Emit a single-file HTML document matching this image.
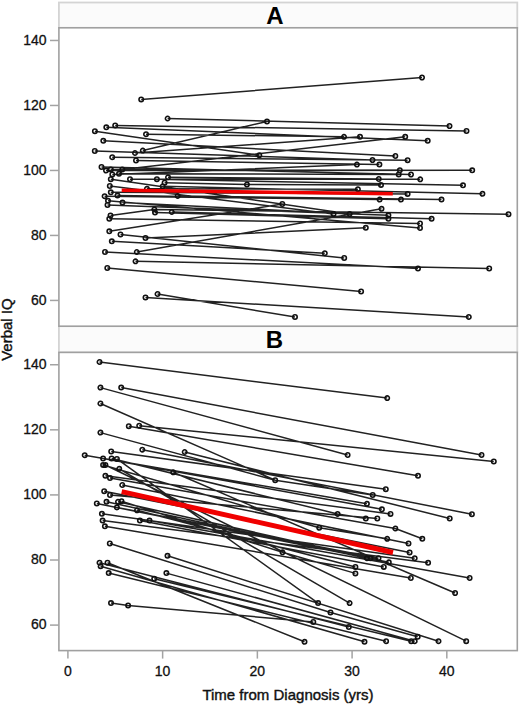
<!DOCTYPE html>
<html><head><meta charset="utf-8"><style>
html,body{margin:0;padding:0;background:#fff;width:520px;height:706px;overflow:hidden}
svg{display:block}
.tk{font-family:"Liberation Sans",sans-serif;font-size:14px;fill:#111;stroke:#111;stroke-width:0.3px}
.lab{font-family:"Liberation Sans",sans-serif;font-size:15px;fill:#111;stroke:#111;stroke-width:0.4px}
.ttl{font-family:"Liberation Sans",sans-serif;font-size:24px;font-weight:bold;fill:#000}
</style></head><body>
<svg width="520" height="706" viewBox="0 0 520 706">
<rect x="58.9" y="2.5" width="458.4" height="25.3" fill="#fbfbfb" stroke="#d4d4d4" stroke-width="1.8"/>
<rect x="58.9" y="326.2" width="458.4" height="26.19999999999999" fill="#fbfbfb" stroke="#d4d4d4" stroke-width="1.8"/>
<rect x="58.9" y="27.8" width="458.4" height="298.4" fill="#fff" stroke="#a0a0a0" stroke-width="1.6"/>
<rect x="58.9" y="352.4" width="458.4" height="298.20000000000005" fill="#fff" stroke="#a0a0a0" stroke-width="1.6"/>
<line x1="50" y1="40.47" x2="58.9" y2="40.47" stroke="#a3a3a3" stroke-width="1.5"/>
<text x="46.6" y="44.67" text-anchor="end" class="tk">140</text>
<line x1="50" y1="364.74" x2="58.9" y2="364.74" stroke="#a3a3a3" stroke-width="1.5"/>
<text x="46.6" y="368.94" text-anchor="end" class="tk">140</text>
<line x1="50" y1="105.46" x2="58.9" y2="105.46" stroke="#a3a3a3" stroke-width="1.5"/>
<text x="46.6" y="109.66" text-anchor="end" class="tk">120</text>
<line x1="50" y1="429.83" x2="58.9" y2="429.83" stroke="#a3a3a3" stroke-width="1.5"/>
<text x="46.6" y="434.03" text-anchor="end" class="tk">120</text>
<line x1="50" y1="170.45" x2="58.9" y2="170.45" stroke="#a3a3a3" stroke-width="1.5"/>
<text x="46.6" y="174.65" text-anchor="end" class="tk">100</text>
<line x1="50" y1="494.92" x2="58.9" y2="494.92" stroke="#a3a3a3" stroke-width="1.5"/>
<text x="46.6" y="499.12" text-anchor="end" class="tk">100</text>
<line x1="50" y1="235.44" x2="58.9" y2="235.44" stroke="#a3a3a3" stroke-width="1.5"/>
<text x="46.6" y="239.64" text-anchor="end" class="tk">80</text>
<line x1="50" y1="560.01" x2="58.9" y2="560.01" stroke="#a3a3a3" stroke-width="1.5"/>
<text x="46.6" y="564.21" text-anchor="end" class="tk">80</text>
<line x1="50" y1="300.43" x2="58.9" y2="300.43" stroke="#a3a3a3" stroke-width="1.5"/>
<text x="46.6" y="304.63" text-anchor="end" class="tk">60</text>
<line x1="50" y1="625.10" x2="58.9" y2="625.10" stroke="#a3a3a3" stroke-width="1.5"/>
<text x="46.6" y="629.30" text-anchor="end" class="tk">60</text>
<line x1="67.90" y1="650.6" x2="67.90" y2="658.6" stroke="#a3a3a3" stroke-width="1.5"/>
<text x="67.90" y="676.2" text-anchor="middle" class="tk">0</text>
<line x1="162.63" y1="650.6" x2="162.63" y2="658.6" stroke="#a3a3a3" stroke-width="1.5"/>
<text x="162.63" y="676.2" text-anchor="middle" class="tk">10</text>
<line x1="257.36" y1="650.6" x2="257.36" y2="658.6" stroke="#a3a3a3" stroke-width="1.5"/>
<text x="257.36" y="676.2" text-anchor="middle" class="tk">20</text>
<line x1="352.09" y1="650.6" x2="352.09" y2="658.6" stroke="#a3a3a3" stroke-width="1.5"/>
<text x="352.09" y="676.2" text-anchor="middle" class="tk">30</text>
<line x1="446.82" y1="650.6" x2="446.82" y2="658.6" stroke="#a3a3a3" stroke-width="1.5"/>
<text x="446.82" y="676.2" text-anchor="middle" class="tk">40</text>
<text x="274.8" y="23.6" text-anchor="middle" class="ttl">A</text>
<text x="274.5" y="348.4" text-anchor="middle" class="ttl">B</text>
<text transform="translate(11.5 329.6) rotate(-90)" text-anchor="middle" class="lab">Verbal IQ</text>
<text x="288" y="700.3" text-anchor="middle" class="lab">Time from Diagnosis (yrs)</text>
<path d="M141.2 99.4L422.0 77.5M167.6 118.5L449.5 126.0M94.9 131.2L259.3 155.3M122.3 169.6L405.2 136.8M142.8 150.6L267.0 121.5M109.3 231.3L282.3 204.0M120.5 234.5L344.2 258.0M145.5 238.0L365.8 227.8M111.8 241.3L324.8 253.2M105.0 252.0L418.0 268.5M136.8 252.0L381.5 208.8M135.5 261.3L489.2 268.5M107.3 268.0L361.1 291.5M145.5 297.5L468.8 316.9M157.5 294.0L295.0 317.0M115.2 125.4L466.5 131.0M106.3 127.3L427.7 140.8M146.0 134.2L344.0 136.8M103.3 140.8L395.3 156.0M94.8 151.0L372.5 160.0M135.0 153.0L360.0 136.8M112.2 157.2L407.6 160.2M136.0 160.5L379.4 164.6M101.5 167.0L411.0 174.5M112.3 174.4L356.9 164.6M110.8 169.6L399.8 170.2M106.0 170.6L472.2 170.3M119.0 173.8L398.7 174.4M168.0 177.3L378.7 179.0M110.8 179.2L349.6 213.9M130.0 179.2L420.2 179.3M156.9 179.2L463.0 185.3M164.6 182.7L246.9 184.6M246.9 184.6L381.0 184.9M109.8 186.0L333.5 213.9M162.7 186.3L482.4 193.8M146.9 188.8L357.9 189.2M110.8 192.3L407.6 193.9M117.5 195.6L400.9 199.6M177.7 196.0L441.5 199.6M104.6 196.2L379.6 199.6M108.0 200.8L420.0 228.0M122.5 202.5L349.6 213.9M107.5 205.0L388.4 215.3M154.3 209.5L508.5 214.2M171.8 212.0L431.6 218.8M155.0 212.5L388.4 218.8M110.5 215.5L154.3 209.5M109.3 218.8L420.0 223.5" fill="none" stroke="#222" stroke-width="1.5"/>
<path d="M92.60 151.0a2.2 2.2 0 1 0 4.4 0a2.2 2.2 0 1 0 -4.4 0M92.70 131.2a2.2 2.2 0 1 0 4.4 0a2.2 2.2 0 1 0 -4.4 0M99.30 167.0a2.2 2.2 0 1 0 4.4 0a2.2 2.2 0 1 0 -4.4 0M101.10 140.8a2.2 2.2 0 1 0 4.4 0a2.2 2.2 0 1 0 -4.4 0M102.40 196.2a2.2 2.2 0 1 0 4.4 0a2.2 2.2 0 1 0 -4.4 0M102.80 252.0a2.2 2.2 0 1 0 4.4 0a2.2 2.2 0 1 0 -4.4 0M103.80 170.6a2.2 2.2 0 1 0 4.4 0a2.2 2.2 0 1 0 -4.4 0M104.10 127.3a2.2 2.2 0 1 0 4.4 0a2.2 2.2 0 1 0 -4.4 0M105.10 268.0a2.2 2.2 0 1 0 4.4 0a2.2 2.2 0 1 0 -4.4 0M105.30 205.0a2.2 2.2 0 1 0 4.4 0a2.2 2.2 0 1 0 -4.4 0M105.80 200.8a2.2 2.2 0 1 0 4.4 0a2.2 2.2 0 1 0 -4.4 0M107.10 218.8a2.2 2.2 0 1 0 4.4 0a2.2 2.2 0 1 0 -4.4 0M107.10 231.3a2.2 2.2 0 1 0 4.4 0a2.2 2.2 0 1 0 -4.4 0M107.60 186.0a2.2 2.2 0 1 0 4.4 0a2.2 2.2 0 1 0 -4.4 0M108.30 215.5a2.2 2.2 0 1 0 4.4 0a2.2 2.2 0 1 0 -4.4 0M108.60 169.6a2.2 2.2 0 1 0 4.4 0a2.2 2.2 0 1 0 -4.4 0M108.60 179.2a2.2 2.2 0 1 0 4.4 0a2.2 2.2 0 1 0 -4.4 0M108.60 192.3a2.2 2.2 0 1 0 4.4 0a2.2 2.2 0 1 0 -4.4 0M109.60 241.3a2.2 2.2 0 1 0 4.4 0a2.2 2.2 0 1 0 -4.4 0M110.00 157.2a2.2 2.2 0 1 0 4.4 0a2.2 2.2 0 1 0 -4.4 0M110.10 174.4a2.2 2.2 0 1 0 4.4 0a2.2 2.2 0 1 0 -4.4 0M113.00 125.4a2.2 2.2 0 1 0 4.4 0a2.2 2.2 0 1 0 -4.4 0M115.30 195.6a2.2 2.2 0 1 0 4.4 0a2.2 2.2 0 1 0 -4.4 0M116.80 173.8a2.2 2.2 0 1 0 4.4 0a2.2 2.2 0 1 0 -4.4 0M118.30 234.5a2.2 2.2 0 1 0 4.4 0a2.2 2.2 0 1 0 -4.4 0M120.10 169.6a2.2 2.2 0 1 0 4.4 0a2.2 2.2 0 1 0 -4.4 0M120.30 202.5a2.2 2.2 0 1 0 4.4 0a2.2 2.2 0 1 0 -4.4 0M127.80 179.2a2.2 2.2 0 1 0 4.4 0a2.2 2.2 0 1 0 -4.4 0M132.80 153.0a2.2 2.2 0 1 0 4.4 0a2.2 2.2 0 1 0 -4.4 0M133.30 261.3a2.2 2.2 0 1 0 4.4 0a2.2 2.2 0 1 0 -4.4 0M133.80 160.5a2.2 2.2 0 1 0 4.4 0a2.2 2.2 0 1 0 -4.4 0M134.60 252.0a2.2 2.2 0 1 0 4.4 0a2.2 2.2 0 1 0 -4.4 0M139.00 99.4a2.2 2.2 0 1 0 4.4 0a2.2 2.2 0 1 0 -4.4 0M140.60 150.6a2.2 2.2 0 1 0 4.4 0a2.2 2.2 0 1 0 -4.4 0M143.30 238.0a2.2 2.2 0 1 0 4.4 0a2.2 2.2 0 1 0 -4.4 0M143.30 297.5a2.2 2.2 0 1 0 4.4 0a2.2 2.2 0 1 0 -4.4 0M143.80 134.2a2.2 2.2 0 1 0 4.4 0a2.2 2.2 0 1 0 -4.4 0M144.70 188.8a2.2 2.2 0 1 0 4.4 0a2.2 2.2 0 1 0 -4.4 0M152.10 209.5a2.2 2.2 0 1 0 4.4 0a2.2 2.2 0 1 0 -4.4 0M152.80 212.5a2.2 2.2 0 1 0 4.4 0a2.2 2.2 0 1 0 -4.4 0M154.70 179.2a2.2 2.2 0 1 0 4.4 0a2.2 2.2 0 1 0 -4.4 0M155.30 294.0a2.2 2.2 0 1 0 4.4 0a2.2 2.2 0 1 0 -4.4 0M160.50 186.3a2.2 2.2 0 1 0 4.4 0a2.2 2.2 0 1 0 -4.4 0M162.40 182.7a2.2 2.2 0 1 0 4.4 0a2.2 2.2 0 1 0 -4.4 0M165.40 118.5a2.2 2.2 0 1 0 4.4 0a2.2 2.2 0 1 0 -4.4 0M165.80 177.3a2.2 2.2 0 1 0 4.4 0a2.2 2.2 0 1 0 -4.4 0M169.60 212.0a2.2 2.2 0 1 0 4.4 0a2.2 2.2 0 1 0 -4.4 0M175.50 196.0a2.2 2.2 0 1 0 4.4 0a2.2 2.2 0 1 0 -4.4 0M244.70 184.6a2.2 2.2 0 1 0 4.4 0a2.2 2.2 0 1 0 -4.4 0M257.10 155.3a2.2 2.2 0 1 0 4.4 0a2.2 2.2 0 1 0 -4.4 0M264.80 121.5a2.2 2.2 0 1 0 4.4 0a2.2 2.2 0 1 0 -4.4 0M280.10 204.0a2.2 2.2 0 1 0 4.4 0a2.2 2.2 0 1 0 -4.4 0M292.80 317.0a2.2 2.2 0 1 0 4.4 0a2.2 2.2 0 1 0 -4.4 0M322.60 253.2a2.2 2.2 0 1 0 4.4 0a2.2 2.2 0 1 0 -4.4 0M331.30 213.9a2.2 2.2 0 1 0 4.4 0a2.2 2.2 0 1 0 -4.4 0M341.80 136.8a2.2 2.2 0 1 0 4.4 0a2.2 2.2 0 1 0 -4.4 0M342.00 258.0a2.2 2.2 0 1 0 4.4 0a2.2 2.2 0 1 0 -4.4 0M347.40 213.9a2.2 2.2 0 1 0 4.4 0a2.2 2.2 0 1 0 -4.4 0M354.70 164.6a2.2 2.2 0 1 0 4.4 0a2.2 2.2 0 1 0 -4.4 0M355.70 189.2a2.2 2.2 0 1 0 4.4 0a2.2 2.2 0 1 0 -4.4 0M357.80 136.8a2.2 2.2 0 1 0 4.4 0a2.2 2.2 0 1 0 -4.4 0M358.90 291.5a2.2 2.2 0 1 0 4.4 0a2.2 2.2 0 1 0 -4.4 0M363.60 227.8a2.2 2.2 0 1 0 4.4 0a2.2 2.2 0 1 0 -4.4 0M370.30 160.0a2.2 2.2 0 1 0 4.4 0a2.2 2.2 0 1 0 -4.4 0M376.50 179.0a2.2 2.2 0 1 0 4.4 0a2.2 2.2 0 1 0 -4.4 0M377.20 164.6a2.2 2.2 0 1 0 4.4 0a2.2 2.2 0 1 0 -4.4 0M377.40 199.6a2.2 2.2 0 1 0 4.4 0a2.2 2.2 0 1 0 -4.4 0M378.80 184.9a2.2 2.2 0 1 0 4.4 0a2.2 2.2 0 1 0 -4.4 0M379.30 208.8a2.2 2.2 0 1 0 4.4 0a2.2 2.2 0 1 0 -4.4 0M386.20 215.3a2.2 2.2 0 1 0 4.4 0a2.2 2.2 0 1 0 -4.4 0M386.20 218.8a2.2 2.2 0 1 0 4.4 0a2.2 2.2 0 1 0 -4.4 0M393.10 156.0a2.2 2.2 0 1 0 4.4 0a2.2 2.2 0 1 0 -4.4 0M396.50 174.4a2.2 2.2 0 1 0 4.4 0a2.2 2.2 0 1 0 -4.4 0M397.60 170.2a2.2 2.2 0 1 0 4.4 0a2.2 2.2 0 1 0 -4.4 0M398.70 199.6a2.2 2.2 0 1 0 4.4 0a2.2 2.2 0 1 0 -4.4 0M403.00 136.8a2.2 2.2 0 1 0 4.4 0a2.2 2.2 0 1 0 -4.4 0M405.40 160.2a2.2 2.2 0 1 0 4.4 0a2.2 2.2 0 1 0 -4.4 0M405.40 193.9a2.2 2.2 0 1 0 4.4 0a2.2 2.2 0 1 0 -4.4 0M408.80 174.5a2.2 2.2 0 1 0 4.4 0a2.2 2.2 0 1 0 -4.4 0M415.80 268.5a2.2 2.2 0 1 0 4.4 0a2.2 2.2 0 1 0 -4.4 0M417.80 223.5a2.2 2.2 0 1 0 4.4 0a2.2 2.2 0 1 0 -4.4 0M417.80 228.0a2.2 2.2 0 1 0 4.4 0a2.2 2.2 0 1 0 -4.4 0M418.00 179.3a2.2 2.2 0 1 0 4.4 0a2.2 2.2 0 1 0 -4.4 0M419.80 77.5a2.2 2.2 0 1 0 4.4 0a2.2 2.2 0 1 0 -4.4 0M425.50 140.8a2.2 2.2 0 1 0 4.4 0a2.2 2.2 0 1 0 -4.4 0M429.40 218.8a2.2 2.2 0 1 0 4.4 0a2.2 2.2 0 1 0 -4.4 0M439.30 199.6a2.2 2.2 0 1 0 4.4 0a2.2 2.2 0 1 0 -4.4 0M447.30 126.0a2.2 2.2 0 1 0 4.4 0a2.2 2.2 0 1 0 -4.4 0M460.80 185.3a2.2 2.2 0 1 0 4.4 0a2.2 2.2 0 1 0 -4.4 0M464.30 131.0a2.2 2.2 0 1 0 4.4 0a2.2 2.2 0 1 0 -4.4 0M466.60 316.9a2.2 2.2 0 1 0 4.4 0a2.2 2.2 0 1 0 -4.4 0M470.00 170.3a2.2 2.2 0 1 0 4.4 0a2.2 2.2 0 1 0 -4.4 0M480.20 193.8a2.2 2.2 0 1 0 4.4 0a2.2 2.2 0 1 0 -4.4 0M487.00 268.5a2.2 2.2 0 1 0 4.4 0a2.2 2.2 0 1 0 -4.4 0M506.30 214.2a2.2 2.2 0 1 0 4.4 0a2.2 2.2 0 1 0 -4.4 0" fill="none" stroke="#111" stroke-width="1.6"/>
<path d="M99.5 362.0L387.2 398.1M121.2 387.6L481.5 455.0M100.4 387.6L347.6 455.0M139.2 425.7L493.8 461.5M128.8 426.2L418.0 475.8M100.4 403.5L275.2 480.2M275.2 480.2L372.7 495.0M100.4 432.6L275.2 480.2M395.3 528.5L422.3 538.8M142.3 449.7L471.9 514.2M184.7 452.0L449.7 518.5M111.2 451.5L385.8 489.2M84.7 455.2L366.9 503.8M116.9 458.9L318.1 603.1M111.6 458.5L337.6 513.9M337.6 513.9L365.8 518.5M103.1 458.5L381.9 509.3M105.4 465.0L466.2 641.2M103.1 465.0L319.2 527.8M319.2 527.8L387.2 538.8M119.2 468.8L349.6 603.1M173.2 472.3L455.1 593.0M105.4 475.8L390.5 513.9M110.0 478.0L395.3 528.5M122.2 485.0L408.5 543.4M104.2 491.2L409.6 552.4M110.0 495.0L377.3 518.5M121.5 501.2L282.5 552.3M282.5 552.3L355.4 573.4M106.5 501.8L366.9 558.2M118.0 501.8L370.4 558.2M96.8 503.5L388.8 562.3M116.9 507.4L378.5 558.2M137.0 510.3L355.4 566.9M101.9 513.8L414.7 558.2M102.6 520.6L428.1 562.8M139.9 520.6L383.8 566.9M149.5 520.6L469.6 578.0M104.9 526.3L410.8 578.0M109.8 543.5L330.5 612.5M330.5 612.5L417.7 636.8M99.5 562.7L348.8 627.0M107.5 562.7L304.5 641.8M100.6 566.2L364.5 641.8M108.7 573.1L386.1 641.2M154.2 578.8L411.2 641.2M166.4 573.1L414.7 641.2M167.5 555.8L438.5 641.2M111.0 603.1L128.1 605.4M128.1 605.4L313.3 622.0" fill="none" stroke="#222" stroke-width="1.5"/>
<path d="M82.50 455.2a2.2 2.2 0 1 0 4.4 0a2.2 2.2 0 1 0 -4.4 0M94.60 503.5a2.2 2.2 0 1 0 4.4 0a2.2 2.2 0 1 0 -4.4 0M97.30 362.0a2.2 2.2 0 1 0 4.4 0a2.2 2.2 0 1 0 -4.4 0M97.30 562.7a2.2 2.2 0 1 0 4.4 0a2.2 2.2 0 1 0 -4.4 0M98.20 387.6a2.2 2.2 0 1 0 4.4 0a2.2 2.2 0 1 0 -4.4 0M98.20 403.5a2.2 2.2 0 1 0 4.4 0a2.2 2.2 0 1 0 -4.4 0M98.20 432.6a2.2 2.2 0 1 0 4.4 0a2.2 2.2 0 1 0 -4.4 0M98.40 566.2a2.2 2.2 0 1 0 4.4 0a2.2 2.2 0 1 0 -4.4 0M99.70 513.8a2.2 2.2 0 1 0 4.4 0a2.2 2.2 0 1 0 -4.4 0M100.40 520.6a2.2 2.2 0 1 0 4.4 0a2.2 2.2 0 1 0 -4.4 0M100.90 458.5a2.2 2.2 0 1 0 4.4 0a2.2 2.2 0 1 0 -4.4 0M100.90 465.0a2.2 2.2 0 1 0 4.4 0a2.2 2.2 0 1 0 -4.4 0M102.00 491.2a2.2 2.2 0 1 0 4.4 0a2.2 2.2 0 1 0 -4.4 0M102.70 526.3a2.2 2.2 0 1 0 4.4 0a2.2 2.2 0 1 0 -4.4 0M103.20 465.0a2.2 2.2 0 1 0 4.4 0a2.2 2.2 0 1 0 -4.4 0M103.20 475.8a2.2 2.2 0 1 0 4.4 0a2.2 2.2 0 1 0 -4.4 0M104.30 501.8a2.2 2.2 0 1 0 4.4 0a2.2 2.2 0 1 0 -4.4 0M105.30 562.7a2.2 2.2 0 1 0 4.4 0a2.2 2.2 0 1 0 -4.4 0M106.50 573.1a2.2 2.2 0 1 0 4.4 0a2.2 2.2 0 1 0 -4.4 0M107.60 543.5a2.2 2.2 0 1 0 4.4 0a2.2 2.2 0 1 0 -4.4 0M107.80 478.0a2.2 2.2 0 1 0 4.4 0a2.2 2.2 0 1 0 -4.4 0M107.80 495.0a2.2 2.2 0 1 0 4.4 0a2.2 2.2 0 1 0 -4.4 0M108.80 603.1a2.2 2.2 0 1 0 4.4 0a2.2 2.2 0 1 0 -4.4 0M109.00 451.5a2.2 2.2 0 1 0 4.4 0a2.2 2.2 0 1 0 -4.4 0M109.40 458.5a2.2 2.2 0 1 0 4.4 0a2.2 2.2 0 1 0 -4.4 0M114.70 458.9a2.2 2.2 0 1 0 4.4 0a2.2 2.2 0 1 0 -4.4 0M114.70 507.4a2.2 2.2 0 1 0 4.4 0a2.2 2.2 0 1 0 -4.4 0M115.80 501.8a2.2 2.2 0 1 0 4.4 0a2.2 2.2 0 1 0 -4.4 0M117.00 468.8a2.2 2.2 0 1 0 4.4 0a2.2 2.2 0 1 0 -4.4 0M119.00 387.6a2.2 2.2 0 1 0 4.4 0a2.2 2.2 0 1 0 -4.4 0M119.30 501.2a2.2 2.2 0 1 0 4.4 0a2.2 2.2 0 1 0 -4.4 0M120.00 485.0a2.2 2.2 0 1 0 4.4 0a2.2 2.2 0 1 0 -4.4 0M125.90 605.4a2.2 2.2 0 1 0 4.4 0a2.2 2.2 0 1 0 -4.4 0M126.60 426.2a2.2 2.2 0 1 0 4.4 0a2.2 2.2 0 1 0 -4.4 0M134.80 510.3a2.2 2.2 0 1 0 4.4 0a2.2 2.2 0 1 0 -4.4 0M137.00 425.7a2.2 2.2 0 1 0 4.4 0a2.2 2.2 0 1 0 -4.4 0M137.70 520.6a2.2 2.2 0 1 0 4.4 0a2.2 2.2 0 1 0 -4.4 0M140.10 449.7a2.2 2.2 0 1 0 4.4 0a2.2 2.2 0 1 0 -4.4 0M147.30 520.6a2.2 2.2 0 1 0 4.4 0a2.2 2.2 0 1 0 -4.4 0M152.00 578.8a2.2 2.2 0 1 0 4.4 0a2.2 2.2 0 1 0 -4.4 0M164.20 573.1a2.2 2.2 0 1 0 4.4 0a2.2 2.2 0 1 0 -4.4 0M165.30 555.8a2.2 2.2 0 1 0 4.4 0a2.2 2.2 0 1 0 -4.4 0M171.00 472.3a2.2 2.2 0 1 0 4.4 0a2.2 2.2 0 1 0 -4.4 0M182.50 452.0a2.2 2.2 0 1 0 4.4 0a2.2 2.2 0 1 0 -4.4 0M273.00 480.2a2.2 2.2 0 1 0 4.4 0a2.2 2.2 0 1 0 -4.4 0M280.30 552.3a2.2 2.2 0 1 0 4.4 0a2.2 2.2 0 1 0 -4.4 0M302.30 641.8a2.2 2.2 0 1 0 4.4 0a2.2 2.2 0 1 0 -4.4 0M311.10 622.0a2.2 2.2 0 1 0 4.4 0a2.2 2.2 0 1 0 -4.4 0M315.90 603.1a2.2 2.2 0 1 0 4.4 0a2.2 2.2 0 1 0 -4.4 0M317.00 527.8a2.2 2.2 0 1 0 4.4 0a2.2 2.2 0 1 0 -4.4 0M328.30 612.5a2.2 2.2 0 1 0 4.4 0a2.2 2.2 0 1 0 -4.4 0M335.40 513.9a2.2 2.2 0 1 0 4.4 0a2.2 2.2 0 1 0 -4.4 0M345.40 455.0a2.2 2.2 0 1 0 4.4 0a2.2 2.2 0 1 0 -4.4 0M346.60 627.0a2.2 2.2 0 1 0 4.4 0a2.2 2.2 0 1 0 -4.4 0M347.40 603.1a2.2 2.2 0 1 0 4.4 0a2.2 2.2 0 1 0 -4.4 0M353.20 566.9a2.2 2.2 0 1 0 4.4 0a2.2 2.2 0 1 0 -4.4 0M353.20 573.4a2.2 2.2 0 1 0 4.4 0a2.2 2.2 0 1 0 -4.4 0M362.30 641.8a2.2 2.2 0 1 0 4.4 0a2.2 2.2 0 1 0 -4.4 0M363.60 518.5a2.2 2.2 0 1 0 4.4 0a2.2 2.2 0 1 0 -4.4 0M364.70 503.8a2.2 2.2 0 1 0 4.4 0a2.2 2.2 0 1 0 -4.4 0M364.70 558.2a2.2 2.2 0 1 0 4.4 0a2.2 2.2 0 1 0 -4.4 0M368.20 558.2a2.2 2.2 0 1 0 4.4 0a2.2 2.2 0 1 0 -4.4 0M370.50 495.0a2.2 2.2 0 1 0 4.4 0a2.2 2.2 0 1 0 -4.4 0M375.10 518.5a2.2 2.2 0 1 0 4.4 0a2.2 2.2 0 1 0 -4.4 0M376.30 558.2a2.2 2.2 0 1 0 4.4 0a2.2 2.2 0 1 0 -4.4 0M379.70 509.3a2.2 2.2 0 1 0 4.4 0a2.2 2.2 0 1 0 -4.4 0M381.60 566.9a2.2 2.2 0 1 0 4.4 0a2.2 2.2 0 1 0 -4.4 0M383.60 489.2a2.2 2.2 0 1 0 4.4 0a2.2 2.2 0 1 0 -4.4 0M383.90 641.2a2.2 2.2 0 1 0 4.4 0a2.2 2.2 0 1 0 -4.4 0M385.00 398.1a2.2 2.2 0 1 0 4.4 0a2.2 2.2 0 1 0 -4.4 0M385.00 538.8a2.2 2.2 0 1 0 4.4 0a2.2 2.2 0 1 0 -4.4 0M386.60 562.3a2.2 2.2 0 1 0 4.4 0a2.2 2.2 0 1 0 -4.4 0M388.30 513.9a2.2 2.2 0 1 0 4.4 0a2.2 2.2 0 1 0 -4.4 0M393.10 528.5a2.2 2.2 0 1 0 4.4 0a2.2 2.2 0 1 0 -4.4 0M406.30 543.4a2.2 2.2 0 1 0 4.4 0a2.2 2.2 0 1 0 -4.4 0M407.40 552.4a2.2 2.2 0 1 0 4.4 0a2.2 2.2 0 1 0 -4.4 0M408.60 578.0a2.2 2.2 0 1 0 4.4 0a2.2 2.2 0 1 0 -4.4 0M409.00 641.2a2.2 2.2 0 1 0 4.4 0a2.2 2.2 0 1 0 -4.4 0M412.50 558.2a2.2 2.2 0 1 0 4.4 0a2.2 2.2 0 1 0 -4.4 0M412.50 641.2a2.2 2.2 0 1 0 4.4 0a2.2 2.2 0 1 0 -4.4 0M415.50 636.8a2.2 2.2 0 1 0 4.4 0a2.2 2.2 0 1 0 -4.4 0M415.80 475.8a2.2 2.2 0 1 0 4.4 0a2.2 2.2 0 1 0 -4.4 0M420.10 538.8a2.2 2.2 0 1 0 4.4 0a2.2 2.2 0 1 0 -4.4 0M425.90 562.8a2.2 2.2 0 1 0 4.4 0a2.2 2.2 0 1 0 -4.4 0M436.30 641.2a2.2 2.2 0 1 0 4.4 0a2.2 2.2 0 1 0 -4.4 0M447.50 518.5a2.2 2.2 0 1 0 4.4 0a2.2 2.2 0 1 0 -4.4 0M452.90 593.0a2.2 2.2 0 1 0 4.4 0a2.2 2.2 0 1 0 -4.4 0M464.00 641.2a2.2 2.2 0 1 0 4.4 0a2.2 2.2 0 1 0 -4.4 0M467.40 578.0a2.2 2.2 0 1 0 4.4 0a2.2 2.2 0 1 0 -4.4 0M469.70 514.2a2.2 2.2 0 1 0 4.4 0a2.2 2.2 0 1 0 -4.4 0M479.30 455.0a2.2 2.2 0 1 0 4.4 0a2.2 2.2 0 1 0 -4.4 0M491.60 461.5a2.2 2.2 0 1 0 4.4 0a2.2 2.2 0 1 0 -4.4 0" fill="none" stroke="#111" stroke-width="1.6"/>
<line x1="121.7" y1="190.3" x2="392.8" y2="193.8" stroke="#f00000" stroke-width="3.5"/>
<line x1="121.7" y1="491.6" x2="393.0" y2="552.5" stroke="#f00000" stroke-width="5.0"/>
</svg>
</body></html>
